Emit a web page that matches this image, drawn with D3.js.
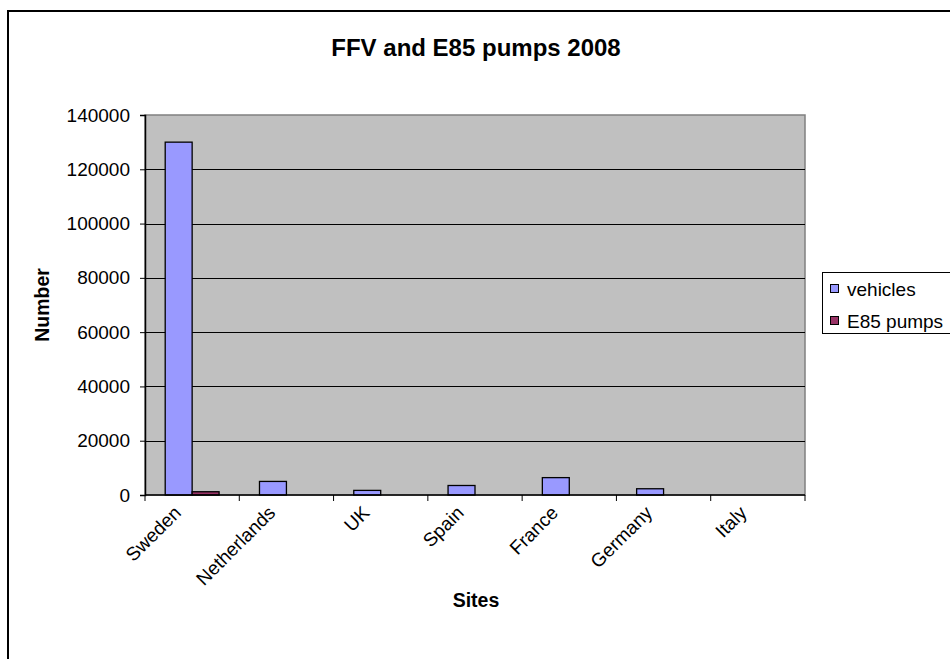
<!DOCTYPE html>
<html>
<head>
<meta charset="utf-8">
<script src="https://cdn.jsdelivr.net/npm/d3@7"></script>
<style>
  html, body { margin: 0; padding: 0; background: #ffffff; }
  svg { display: block; }
  text { font-family: "Liberation Sans", Arial, sans-serif; fill: #000; }
</style>
</head>
<body>
<svg id="chart" width="950" height="659"></svg>
<script>
// ---- data ----
const categories = ["Sweden", "Netherlands", "UK", "Spain", "France", "Germany", "Italy"];
const seriesNames = ["vehicles", "E85 pumps"];
const vehicles = [130000, 5000, 1700, 3500, 6400, 2300, 0];
const e85pumps = [1200, 0, 0, 0, 0, 0, 0];
const yTicks = [0, 20000, 40000, 60000, 80000, 100000, 120000, 140000];
const seriesColors = ["#9999FF", "#993366"];
const titleText = "FFV and E85 pumps 2008";
const xTitle = "Sites";
const yTitle = "Number";

// ---- layout ----
const svg = d3.select("#chart");
const plot = { left: 145, right: 805, top: 115, bottom: 495 };
const seriesValues = [vehicles, e85pumps];

// outer frame
svg.append("rect")
  .attr("x", 8).attr("y", 11).attr("width", 1000).attr("height", 1000)
  .attr("fill", "#fff").attr("stroke", "#000").attr("stroke-width", 2);

const x = d3.scaleBand().domain(categories)
  .range([plot.left, plot.right])
  .paddingInner(1.5 / 3.5).paddingOuter(0.75 / 3.5);
const xs = d3.scaleBand().domain(seriesNames).range([0, x.bandwidth()]).padding(0);
const y = d3.scaleLinear().domain([0, 140000]).range([plot.bottom, plot.top]);

// plot area background
svg.append("rect")
  .attr("x", plot.left).attr("y", plot.top)
  .attr("width", plot.right - plot.left).attr("height", plot.bottom - plot.top)
  .attr("fill", "#C0C0C0").attr("stroke", "#808080").attr("stroke-width", 1.5);

// gridlines
svg.append("g").selectAll("line")
  .data(yTicks.filter(d => d > 0 && d < 140000))
  .join("line")
  .attr("x1", plot.left).attr("x2", plot.right)
  .attr("y1", d => Math.round(y(d)) + 0.5).attr("y2", d => Math.round(y(d)) + 0.5)
  .attr("stroke", "#000").attr("stroke-width", 1);

// bars
const groups = svg.append("g").selectAll("g")
  .data(categories)
  .join("g")
  .attr("transform", d => `translate(${x(d)},0)`);

groups.selectAll("rect")
  .data((d, i) => seriesNames.map((s, j) => ({ s, j, v: seriesValues[j][i] })))
  .join("rect")
  .attr("x", d => xs(d.s))
  .attr("width", xs.bandwidth())
  .attr("y", d => y(d.v))
  .attr("height", d => y(0) - y(d.v))
  .attr("fill", d => seriesColors[d.j])
  .attr("stroke", "#000").attr("stroke-width", 1.3);

// y axis
const yAxis = d3.axisLeft(y).tickValues(yTicks).tickSize(5).tickPadding(10).tickFormat(d3.format("d"));
const yg = svg.append("g").attr("transform", `translate(${plot.left},0)`).call(yAxis);
yg.select(".domain").attr("stroke", "#000").attr("stroke-width", 1.5);
yg.selectAll(".tick line").attr("stroke", "#000");
yg.selectAll(".tick text").attr("font-size", 19).attr("font-family", '"Liberation Sans", Arial, sans-serif').attr("fill", "#000");

// x axis line and ticks at category boundaries
const xg = svg.append("g");
xg.append("line")
  .attr("x1", plot.left).attr("x2", plot.right)
  .attr("y1", plot.bottom).attr("y2", plot.bottom)
  .attr("stroke", "#000").attr("stroke-width", 1.5);
const step = x.step();
const boundaries = d3.range(categories.length + 1).map(i => plot.left + i * step);
xg.selectAll("line.tk").data(boundaries).join("line")
  .attr("class", "tk")
  .attr("x1", d => d).attr("x2", d => d)
  .attr("y1", plot.bottom).attr("y2", plot.bottom + 6)
  .attr("stroke", "#000").attr("stroke-width", 1);

// x labels rotated
xg.selectAll("text").data(categories).join("text")
  .attr("transform", d => `translate(${x(d) + x.bandwidth() / 2 - 10},${plot.bottom + 19}) rotate(-45)`)
  .attr("text-anchor", "end")
  .attr("font-size", 19)
  .text(d => d);

// titles
svg.append("text").attr("x", 476).attr("y", 56).attr("text-anchor", "middle")
  .attr("font-size", 24).attr("font-weight", "bold").text(titleText);
svg.append("text").attr("x", 476).attr("y", 607).attr("text-anchor", "middle")
  .attr("font-size", 19.5).attr("font-weight", "bold").text(xTitle);
svg.append("text").attr("transform", `translate(49,${(plot.top + plot.bottom) / 2}) rotate(-90)`)
  .attr("text-anchor", "middle")
  .attr("font-size", 19.5).attr("font-weight", "bold").text(yTitle);

// legend
const lg = svg.append("g");
lg.append("rect").attr("x", 822.5).attr("y", 272.5).attr("width", 150).attr("height", 61)
  .attr("fill", "#fff").attr("stroke", "#000").attr("stroke-width", 1);
const rowsY = [289, 321];
lg.selectAll("rect.sw").data(seriesNames).join("rect")
  .attr("class", "sw")
  .attr("x", 830.5).attr("y", (d, i) => rowsY[i] - 4.5)
  .attr("width", 8).attr("height", 8)
  .attr("fill", (d, i) => seriesColors[i]).attr("stroke", "#000").attr("stroke-width", 1);
lg.selectAll("text").data(seriesNames).join("text")
  .attr("x", 847).attr("y", (d, i) => rowsY[i])
  .attr("dy", "0.35em")
  .attr("font-size", 19)
  .text(d => d);
</script>
</body>
</html>
